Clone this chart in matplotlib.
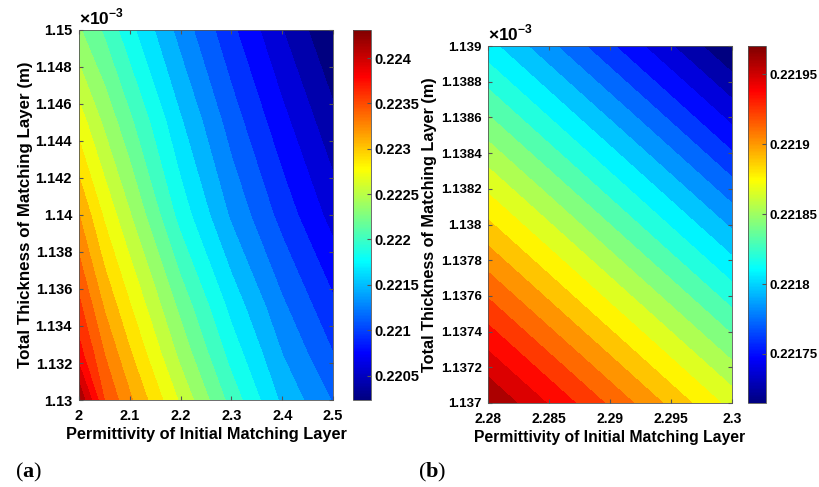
import numpy as np
import matplotlib
matplotlib.use("Agg")
import matplotlib.pyplot as plt
from matplotlib import cm, colors
from matplotlib.ticker import FuncFormatter

plt.rcParams['font.family'] = ['Liberation Sans', 'DejaVu Sans']
plt.rcParams['font.weight'] = 'bold'
plt.rcParams['mathtext.fontset'] = 'custom'
plt.rcParams['mathtext.bf'] = 'Liberation Serif:bold'
plt.rcParams['mathtext.rm'] = 'Liberation Sans:bold'

# panel (a): permittivity vs total thickness (m)
eps_a = [2.0, 2.05, 2.1, 2.2, 2.3, 2.4, 2.5]
thick_a = [1.130e-3, 1.1325e-3, 1.135e-3, 1.140e-3, 1.145e-3, 1.150e-3]
val_a = [
    [0.22431, 0.22360, 0.22328, 0.22268, 0.22211, 0.22161, 0.22128],
    [0.22385, 0.22342, 0.22309, 0.22248, 0.22193, 0.22147, 0.22112],
    [0.22365, 0.22323, 0.22291, 0.22231, 0.22177, 0.22133, 0.22098],
    [0.22325, 0.22286, 0.22255, 0.22193, 0.22144, 0.22105, 0.22069],
    [0.22281, 0.22250, 0.22222, 0.22167, 0.22121, 0.22082, 0.22046],
    [0.22238, 0.22215, 0.22188, 0.22140, 0.22098, 0.22059, 0.22023],
]
xt_a = [2.0, 2.1, 2.2, 2.3, 2.4, 2.5]
yt_a = [1.130e-3, 1.132e-3, 1.134e-3, 1.136e-3, 1.138e-3, 1.140e-3,
        1.142e-3, 1.144e-3, 1.146e-3, 1.148e-3, 1.150e-3]
ct_a = [0.2205, 0.221, 0.2215, 0.222, 0.2225, 0.223, 0.2235, 0.224]

# panel (b): zoomed region
eps_b = [2.28, 2.30]
thick_b = [1.137e-3, 1.139e-3]
val_b = [
    [0.221970, 0.221873],
    [0.221812, 0.221715],
]
xt_b = [2.28, 2.285, 2.29, 2.295, 2.3]
yt_b = [1.1370e-3, 1.1372e-3, 1.1374e-3, 1.1376e-3, 1.1378e-3, 1.1380e-3,
        1.1382e-3, 1.1384e-3, 1.1386e-3, 1.1388e-3, 1.1390e-3]
ct_b = [0.22175, 0.2218, 0.22185, 0.2219, 0.22195]

fig = plt.figure(figsize=(8.19, 4.87), dpi=100)
# MATLAB style jet
cmap = colors.LinearSegmentedColormap.from_list('mjet', [
    (0.0, (0, 0, 0.5)), (0.125, (0, 0, 1)), (0.375, (0, 1, 1)),
    (0.625, (1, 1, 0)), (0.875, (1, 0, 0)), (1.0, (0.5, 0, 0))], N=256)
edge = '#555555'


def panel(ax_rect, cb_rect, xs, ys, zs, xt, yt, ct, nband, tag, tag_x,
          fs_x, fs_y, fs_lab, ypad, ylpad):
    ax = fig.add_axes(ax_rect)
    z = np.array(zs)
    norm = colors.Normalize(z.min(), z.max())
    lev = np.linspace(z.min(), z.max(), nband + 1)
    ax.contourf(xs, ys, z, levels=lev, colors=cmap(norm(lev[:-1])),
                antialiased=False)
    ax.set_xlim(xs[0], xs[-1])
    ax.set_ylim(ys[0], ys[-1])
    ax.set_xticks(xt)
    ax.set_yticks(yt)
    ax.xaxis.set_major_formatter(FuncFormatter(lambda v, p: f"{v:g}"))
    ax.yaxis.set_major_formatter(FuncFormatter(lambda v, p: f"{v*1e3:g}"))
    ax.tick_params(direction='in', top=True, right=True, length=3, color=edge)
    ax.tick_params(axis='x', pad=6.5, labelsize=fs_x)
    ax.tick_params(axis='y', pad=ypad, labelsize=fs_y)
    for s in ax.spines.values():
        s.set_color(edge)
        s.set_linewidth(0.6)
    ax.set_xlabel('Permittivity of Initial Matching Layer', fontsize=fs_lab,
                  fontweight='bold', labelpad=3)
    ax.set_ylabel('Total Thickness of Matching Layer (m)',
                  fontsize=fs_lab + 0.4, fontweight='bold', labelpad=ylpad)
    ax.text(0.0, 1.006, r'$\times$10$^{-3}$', transform=ax.transAxes,
            ha='left', va='bottom', fontsize=12.5, fontweight='bold')

    cax = fig.add_axes(cb_rect)
    sm = cm.ScalarMappable(norm=norm, cmap=cmap)
    cb = fig.colorbar(sm, cax=cax, ticks=ct)
    cb.ax.yaxis.set_major_formatter(FuncFormatter(lambda v, p: f"{v:g}"))
    cb.ax.tick_params(direction='in', labelsize=fs_y, length=3,
                      color=edge, pad=3)
    cb.outline.set_edgecolor(edge)
    cb.outline.set_linewidth(0.6)

    fig.text(tag_x, 0.03, '(' + r'$\mathbf{' + tag + '}$' + ')',
             fontsize=16, family='Liberation Serif', fontweight='normal',
             va='center')


panel([0.0965, 0.1786, 0.3102, 0.760], [0.4314, 0.1786, 0.0212, 0.760],
      eps_a, thick_a, val_a, xt_a, yt_a, ct_a, 23, 'a', 0.018,
      10.5, 10.5, 11.8, 5.0, 1.5)
panel([0.5958, 0.1725, 0.2976, 0.733], [0.9129, 0.1725, 0.022, 0.733],
      eps_b, thick_b, val_b, xt_b, yt_b, ct_b, 22, 'b', 0.51,
      10.0, 9.5, 11.3, 4.5, 3)

fig.savefig('out.png', dpi=100)
